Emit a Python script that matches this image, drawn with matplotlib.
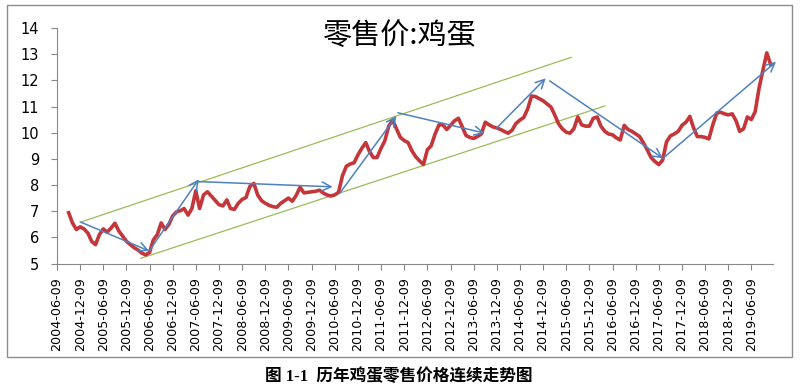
import matplotlib
matplotlib.use("Agg")
import matplotlib.pyplot as plt
import matplotlib.dates as mdates
from matplotlib.patches import Rectangle
import pandas as pd

# monthly retail egg price, starting 2004-09
price = [
    6.94, 6.55, 6.30, 6.40,
    6.32, 6.15, 5.85, 5.72, 6.10, 6.32, 6.20, 6.35, 6.54, 6.25, 6.05, 5.85,
    5.72, 5.60, 5.52, 5.40, 5.33, 5.42, 5.90, 6.10, 6.55, 6.30, 6.50, 6.82,
    6.98, 7.02, 7.10, 6.85, 7.10, 7.78, 7.10, 7.62, 7.74, 7.58, 7.42, 7.25,
    7.20, 7.43, 7.10, 7.07, 7.30, 7.45, 7.52, 7.95, 8.06, 7.62, 7.40, 7.30,
    7.22, 7.17, 7.15, 7.30, 7.40, 7.50, 7.38, 7.60, 7.92, 7.70, 7.72, 7.74,
    7.76, 7.80, 7.70, 7.62, 7.58, 7.62, 7.72, 8.35, 8.72, 8.80, 8.85, 9.15,
    9.40, 9.62, 9.30, 9.05, 9.05, 9.40, 9.68, 10.25, 10.48, 10.15, 9.82, 9.70,
    9.62, 9.30, 9.08, 8.92, 8.78, 9.35, 9.50, 9.95, 10.30, 10.30, 10.12, 10.28,
    10.45, 10.55, 10.25, 9.90, 9.82, 9.78, 9.85, 9.95, 10.40, 10.30, 10.22, 10.18,
    10.12, 10.04, 9.98, 10.10, 10.35, 10.48, 10.58, 10.90, 11.40, 11.38, 11.30, 11.22,
    11.10, 10.98, 10.70, 10.35, 10.15, 10.02, 9.98, 10.15, 10.60, 10.30, 10.25, 10.25,
    10.55, 10.60, 10.25, 10.05, 9.95, 9.92, 9.80, 9.72, 10.28, 10.12, 10.05, 9.95,
    9.85, 9.60, 9.35, 9.05, 8.90, 8.78, 8.95, 9.65, 9.88, 9.95, 10.05, 10.28,
    10.40, 10.62, 10.20, 9.85, 9.85, 9.82, 9.76, 10.30, 10.75, 10.78, 10.72, 10.68,
    10.72, 10.45, 10.05, 10.15, 10.60, 10.50, 10.80, 11.70, 12.40, 13.05, 12.60,
]
dates = pd.date_range("2004-09-01", periods=len(price), freq="MS") + pd.Timedelta(days=8)

tick_labels = [f"{y}-{m:02d}-09" for y in range(2004, 2020) for m in (6, 12)][:-1]

# hand-drawn channel lines (start, end)
channel_upper = [("2004-12-24", 6.60), ("2015-07-18", 12.88)]
channel_lower = [("2006-04-02", 5.20), ("2016-04-09", 11.02)]

# hand-drawn trend arrows (start, end)
arrows = [
    (("2004-12-09", 6.59), ("2006-06-06", 5.48)),
    (("2006-06-06", 5.48), ("2007-07-03", 8.22)),
    (("2007-07-03", 8.13), ("2010-05-24", 7.93)),
    (("2010-07-18", 7.68), ("2011-10-09", 10.64)),
    (("2011-10-21", 10.76), ("2013-09-06", 9.98)),
    (("2013-12-06", 10.17), ("2014-12-30", 12.08)),
    (("2015-01-30", 11.98), ("2017-07-12", 9.02)),
    (("2017-07-12", 9.02), ("2019-12-21", 12.71)),
]

plt.rcParams['font.family'] = ['DejaVu Sans', 'Noto Sans CJK SC']

fig = plt.figure(figsize=(8, 3.92), dpi=100)
ax = fig.add_axes([57 / 800, 1 - 263.5 / 392, (773 - 57) / 800, (263.5 - 28) / 392])

ax.plot(dates, price, color="#C4363A", lw=2.6, zorder=3, solid_joinstyle="round")

for line in (channel_upper, channel_lower):
    xs = [pd.Timestamp(p[0]) for p in line]
    ys = [p[1] for p in line]
    ax.plot(xs, ys, color="#9BBB59", lw=0.9, zorder=2)

for (x0, y0), (x1, y1) in arrows:
    ax.annotate("", xy=(mdates.date2num(pd.Timestamp(x1)), y1),
                xytext=(mdates.date2num(pd.Timestamp(x0)), y0),
                arrowprops=dict(arrowstyle="->", color="#4F81BD", lw=1.1,
                                mutation_scale=16, shrinkA=0, shrinkB=0),
                annotation_clip=False, zorder=4)

ax.set_ylim(5, 14)
ax.set_yticks(range(5, 15))
ax.set_xlim(pd.Timestamp("2004-06-09"), pd.Timestamp("2019-11-27"))
ax.set_xticks([pd.Timestamp(s) for s in tick_labels])
ax.set_xticklabels(tick_labels, rotation=90, fontsize=9.2)
ax.tick_params(axis="y", labelsize=10.5, length=4, pad=9, color="#888888")
ax.tick_params(axis="x", length=4, pad=6, color="#888888")

for side in ("top", "right"):
    ax.spines[side].set_visible(False)
for side in ("left", "bottom"):
    ax.spines[side].set_color("#888888")

fig.text(0.5, 1 - 36 / 392, "零售价:鸡蛋", ha="center", va="center",
         fontsize=21, family=["Noto Sans CJK SC"])
fig.text(0.499, 1 - 377 / 392, "图 1-1  历年鸡蛋零售价格连续走势图", ha="center",
         va="center", fontsize=12, fontweight="bold",
         family=["Liberation Serif", "Noto Sans CJK SC"])

fig.patches.append(Rectangle((7 / 800, 1 - 357 / 392), 785 / 800, 352 / 392,
                             transform=fig.transFigure, fill=False,
                             edgecolor="#8c8c8c", lw=1))

fig.savefig("out.png", dpi=100)
